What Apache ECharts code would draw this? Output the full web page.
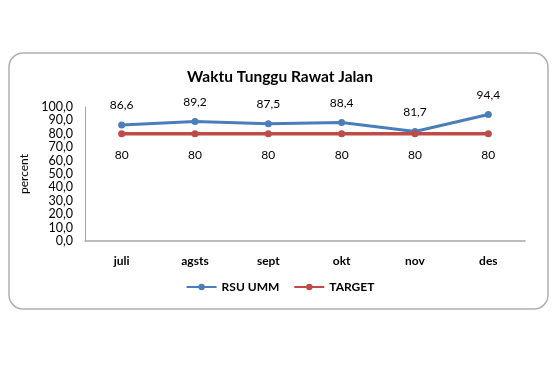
<!DOCTYPE html>
<html><head><meta charset="utf-8">
<script src="https://cdn.jsdelivr.net/npm/echarts@6/dist/echarts.min.js"></script>
<style>html,body{margin:0;padding:0;background:#fff}#c{width:560px;height:370px}</style>
</head><body><div id="c"></div>
<script>
const categories = ['juli','agsts','sept','okt','nov','des'];
const rsuUmm = [86.6, 89.2, 87.5, 88.4, 81.7, 94.4];
const target = [80, 80, 80, 80, 80, 80];
const yTicks = [0,10,20,30,40,50,60,70,80,90,100];

const FONT = 'Lato, "Open Sans", sans-serif';
const chart = echarts.init(document.getElementById('c'));
chart.setOption({
  animation: false,
  textStyle: {fontFamily: FONT, color: '#000'},
  graphic: [{
    type: 'rect', shape: {x: 9, y: 53, width: 539, height: 256, r: 14},
    style: {fill: '#fff', stroke: '#b0b0b0', lineWidth: 1.5}, z: -10
  }],
  title: {
    text: 'Waktu Tunggu Rawat Jalan', left: 'center', top: 64,
    textStyle: {fontFamily: FONT, fontSize: 15.5, fontWeight: 'bold', color: '#000'}
  },
  legend: {
    bottom: 72, left: 'center', itemWidth: 30, itemHeight: 8, itemGap: 14,
    textStyle: {fontFamily: FONT, fontSize: 12, fontWeight: 'bold', color: '#000'},
    data: ['RSU UMM', 'TARGET']
  },
  grid: {left: 85, right: 35, top: 107, bottom: 129},
  xAxis: {
    type: 'category', data: categories,
    axisLine: {lineStyle: {color: '#a6a6a6', width: 1.5}},
    axisTick: {show: false},
    axisLabel: {fontFamily: FONT, fontSize: 12, fontWeight: 'bold', color: '#000', margin: 14}
  },
  yAxis: {
    type: 'value', min: 0, max: 100, interval: 10,
    name: 'percent', nameLocation: 'middle', nameGap: 55, nameRotate: 90,
    nameTextStyle: {fontFamily: FONT, fontSize: 12, color: '#000'},
    axisLine: {show: true, lineStyle: {color: '#a6a6a6', width: 1}},
    axisTick: {show: false}, splitLine: {show: false},
    axisLabel: {fontFamily: FONT, fontSize: 12.5, color: '#000', margin: 12,
      formatter: v => yTicks.includes(v) ? v.toFixed(1).replace('.', ',') : ''}
  },
  series: [{
    name: 'RSU UMM', type: 'line', data: rsuUmm,
    symbol: 'circle', symbolSize: 7,
    lineStyle: {color: '#4a7ebb', width: 3}, itemStyle: {color: '#4a7ebb'},
    label: {show: true, position: 'top', distance: 10, fontFamily: FONT, fontSize: 12, color: '#000',
      formatter: p => p.value.toFixed(1).replace('.', ',')}
  }, {
    name: 'TARGET', type: 'line', data: target,
    symbol: 'circle', symbolSize: 7,
    lineStyle: {color: '#be4b48', width: 3.5}, itemStyle: {color: '#be4b48'},
    label: {show: true, position: 'bottom', distance: 12, fontFamily: FONT, fontSize: 12, color: '#000'}
  }]
});
</script></body></html>
